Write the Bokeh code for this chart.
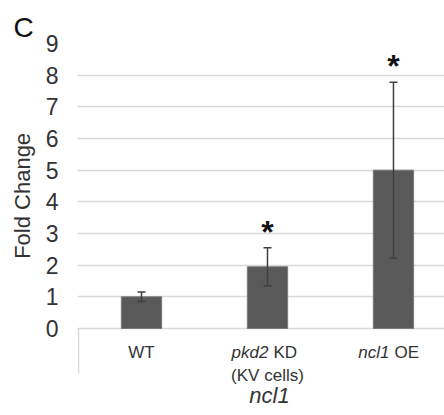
from bokeh.plotting import figure
from bokeh.models import (ColumnDataSource, Range1d, FixedTicker, Whisker, TeeHead)
from bokeh.core.properties import value
from bokeh.embed import file_html
from bokeh.resources import INLINE

# ---- data ----
categories = ["WT", "pkd2 KD (KV cells)", "ncl1 OE"]
fold_change = [1.0, 1.95, 5.0]
error = [0.15, 0.6, 2.78]
significant = ["", "*", "*"]
y_ticks = [0, 1, 2, 3, 4, 5, 6, 7, 8, 9]
group_label = "ncl1"
panel_letter = "C"
y_label = "Fold Change"

FONT = "Liberation Sans"
TXT = "#333333"
GRID = "#d9d9d9"

xs = [i + 0.5 for i in range(len(categories))]
upper = [m + e for m, e in zip(fold_change, error)]
lower = [m - e for m, e in zip(fold_change, error)]
src = ColumnDataSource(dict(x=xs, top=fold_change, upper=upper, lower=lower, star=significant))

# frame extends below the value axis so the category texts can live inside it
p = figure(width=444, height=415, output_backend="svg", toolbar_location=None,
           x_range=Range1d(-0.008, 2.905), y_range=Range1d(-2.747, 9),
           x_axis_location=None,
           min_border_left=77, min_border_right=0, min_border_top=43, min_border_bottom=0)
p.outline_line_color = None
p.background_fill_color = "white"

# panel letter
p.title.text = panel_letter
p.title.text_font = FONT
p.title.text_font_size = "28px"
p.title.text_font_style = "normal"
p.title.text_color = "#111111"
p.title.align = "left"
p.title.offset = -64
p.title.standoff = 2

# gridlines (the 0 line doubles as the category axis line)
p.xgrid.grid_line_color = None
p.ygrid.grid_line_color = GRID
p.ygrid.grid_line_width = 1.5

# y axis
p.yaxis.ticker = FixedTicker(ticks=y_ticks)
p.yaxis.axis_line_color = None
p.yaxis.major_tick_line_color = None
p.yaxis.minor_tick_line_color = None
p.yaxis.major_tick_out = 0
p.yaxis.major_tick_in = 0
p.yaxis.major_label_standoff = 19
p.yaxis.major_label_text_font = FONT
p.yaxis.major_label_text_font_size = "23px"
p.yaxis.major_label_text_color = TXT
# label centred a little above the frame centre (padding with no-break spaces)
p.yaxis.axis_label = "\u00a0" * 11 + y_label
p.yaxis.axis_label_text_font = FONT
p.yaxis.axis_label_text_font_size = "22px"
p.yaxis.axis_label_text_font_style = "normal"
p.yaxis.axis_label_text_color = TXT
p.yaxis.axis_label_standoff = 8

# category divider at the left end of the category axis
p.segment(x0=[0], y0=[0], x1=[0], y1=[-1.42], line_color=GRID, line_width=1.5)

# bars
p.vbar(x="x", top="top", bottom=0, width=0.32, source=src,
       fill_color="#595959", line_color="#7a7a7a", line_width=1)

# error bars
w = Whisker(source=src, base="x", upper="upper", lower="lower",
            line_color="#404040", line_width=1.5, level="annotation",
            upper_head=TeeHead(size=8, line_color="#404040", line_width=1.5),
            lower_head=TeeHead(size=8, line_color="#404040", line_width=1.5))
p.add_layout(w)

# significance stars
p.text(x="x", y="upper", text="star", source=src, text_align="center",
       text_baseline="alphabetic", y_offset=-16,
       text_font=value(FONT), text_font_size="32px", text_font_style="bold",
       text_color="#111111")

# category labels (italic gene names)
def txt(x, y, t, style="normal", align="center", xoff=0, size="17px"):
    p.text(x=[x], y=[y], text=[t], text_align=align, text_baseline="middle",
           x_offset=xoff, text_font=value(FONT), text_font_size=size,
           text_font_style=style, text_color=TXT)

Y1, Y2, YG = -0.76, -1.48, -2.12
txt(xs[0], Y1, "WT")
txt(xs[1], Y1, "pkd2", "italic", "right", 1)
txt(xs[1], Y1, "KD", "normal", "left", 6)
txt(xs[1], Y2, "(KV cells)")
txt(xs[2], Y1, "ncl1", "italic", "right", -4)
txt(xs[2], Y1, "OE", "normal", "left", 1)
txt(xs[1], YG, group_label, "italic", "center", 2, "22px")

open("out.html", "w").write(file_html(p, INLINE))
